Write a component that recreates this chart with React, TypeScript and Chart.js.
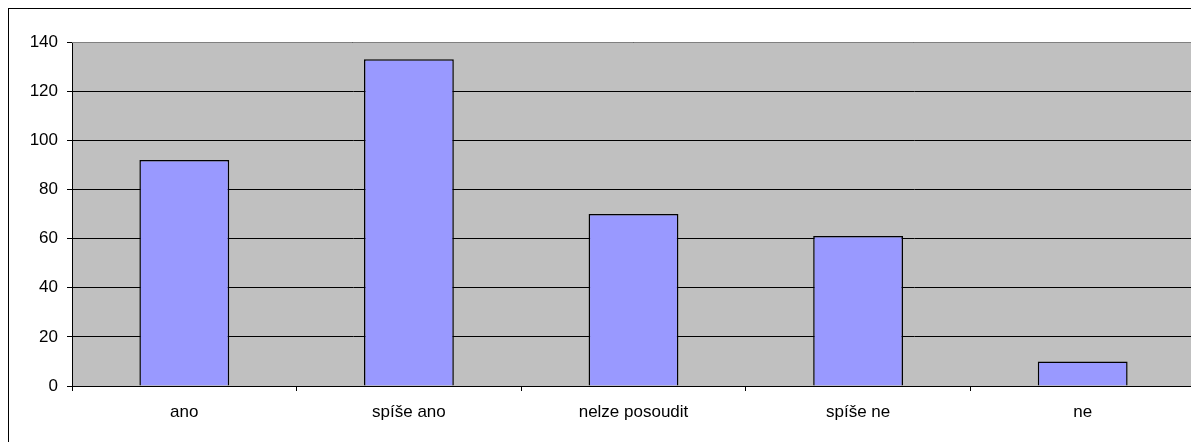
import React, { useEffect, useRef } from "react";
import { Chart, registerables } from "chart.js";

Chart.register(...registerables);

const categories = ["ano", "spíše ano", "nelze posoudit", "spíše ne", "ne"];
const values = [92, 133, 70, 61, 10];
const yTicks = [0, 20, 40, 60, 80, 100, 120, 140];

const plotBg = {
  id: "plotBg",
  beforeDraw(chart: any) {
    const { ctx, chartArea } = chart;
    ctx.save();
    ctx.fillStyle = "#C0C0C0";
    ctx.fillRect(chartArea.left, chartArea.top, chartArea.right - chartArea.left, chartArea.bottom - chartArea.top);
    ctx.restore();
  },
  afterDraw(chart: any) {
    const { ctx, chartArea } = chart;
    ctx.save();
    ctx.strokeStyle = "#808080";
    ctx.lineWidth = 1;
    ctx.beginPath();
    const t = Math.round(chartArea.top) + 0.5;
    const r = Math.round(chartArea.right) - 0.5;
    ctx.moveTo(chartArea.left, t);
    ctx.lineTo(r, t);
    ctx.lineTo(r, chartArea.bottom);
    ctx.stroke();
    ctx.restore();
  },
};

export default function App() {
  const ref = useRef<HTMLCanvasElement>(null);
  useEffect(() => {
    if (!ref.current) return;
    const chart = new Chart(ref.current, {
      type: "bar",
      data: {
        labels: categories,
        datasets: [
          {
            data: values,
            backgroundColor: "#9999FF",
            borderColor: "#000000",
            borderWidth: 1.5,
            barPercentage: 0.4,
            categoryPercentage: 1,
          },
        ],
      },
      options: {
        animation: false,
        responsive: false,
        devicePixelRatio: 1,
        layout: { padding: { top: 33, right: 4, left: 0, bottom: 0 } },
        plugins: { legend: { display: false }, tooltip: { enabled: false } },
        scales: {
          x: {
            grid: {
              offset: true,
              drawOnChartArea: false,
              drawTicks: true,
              tickLength: 5,
              tickColor: "#000",
            },
            border: { color: "#000", width: 1 },
            ticks: {
              color: "#000",
              font: { family: "Liberation Sans, Arial, sans-serif", size: 17 },
              padding: 11,
              maxRotation: 0,
              autoSkip: false,
            },
            afterFit(scale: any) {
              scale.height = 56;
            },
          },
          y: {
            min: 0,
            max: 140,
            afterBuildTicks(scale: any) {
              scale.ticks = yTicks.map((v) => ({ value: v }));
            },
            grid: {
              color: "#000",
              lineWidth: 1,
              drawTicks: true,
              tickLength: 5,
              tickColor: "#000",
            },
            border: { color: "#000", width: 1 },
            ticks: {
              color: "#000",
              font: { family: "Liberation Sans, Arial, sans-serif", size: 17 },
              padding: 9,
            },
            afterFit(scale: any) {
              scale.width = 63;
            },
          },
        },
      },
      plugins: [plotBg],
    });
    return () => chart.destroy();
  }, []);
  return (
    <div
      style={{
        width: 1191,
        height: 434,
        borderTop: "1px solid #000",
        borderLeft: "1px solid #000",
        boxSizing: "border-box",
        background: "#fff",
      }}
    >
      <canvas ref={ref} width={1190} height={433} style={{ display: "block" }} />
    </div>
  );
}
